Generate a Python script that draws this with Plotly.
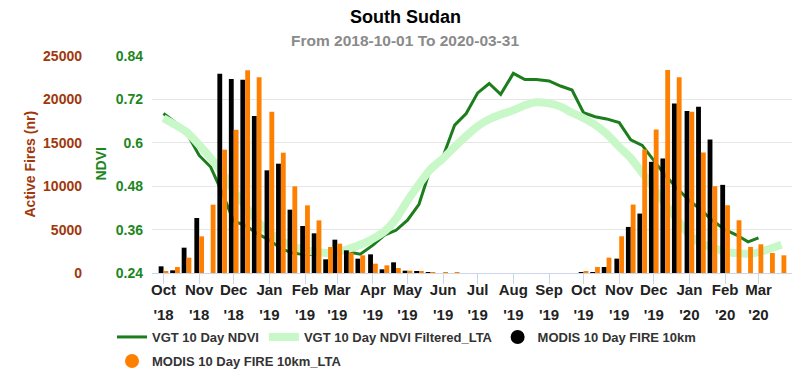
import plotly.graph_objects as go

# ---------------- data ----------------
months = ["2018-10", "2018-11", "2018-12", "2019-01", "2019-02", "2019-03",
          "2019-04", "2019-05", "2019-06", "2019-07", "2019-08", "2019-09",
          "2019-10", "2019-11", "2019-12", "2020-01", "2020-02", "2020-03"]
month_labels = ["Oct", "Nov", "Dec", "Jan", "Feb", "Mar", "Apr", "May", "Jun",
                "Jul", "Aug", "Sep", "Oct", "Nov", "Dec", "Jan", "Feb", "Mar"]
year_labels = ["'18", "'18", "'18", "'19", "'19", "'19", "'19", "'19", "'19",
               "'19", "'19", "'19", "'19", "'19", "'19", "'20", "'20", "'20"]
dekad_days = ["01", "11", "21"]
dekads = [f"{m}-{d}" for m in months for d in dekad_days]
month_ticks = [f"{m}-01" for m in months]

ndvi = [0.681, 0.657, 0.628, 0.565, 0.533, 0.462, 0.383, 0.372, 0.350, 0.331,
        0.308, 0.295, 0.291, 0.292, 0.294, 0.300, 0.298, 0.292, 0.317, 0.345,
        0.358, 0.386, 0.430, 0.529, 0.563, 0.649, 0.681, 0.738, 0.764, 0.734,
        0.792, 0.775, 0.775, 0.771, 0.757, 0.746, 0.683, 0.672, 0.666, 0.656,
        0.608, 0.593, 0.553, 0.510, 0.475, 0.440, 0.415, 0.385, 0.360, 0.345,
        0.326, 0.337, None, None]

ndvi_lta = [0.668, 0.650, 0.630, 0.594, 0.558, 0.517, 0.468, 0.425, 0.385, 0.352,
            0.330, 0.315, 0.303, 0.298, 0.295, 0.298, 0.307, 0.318, 0.335, 0.355,
            0.390, 0.440, 0.485, 0.527, 0.557, 0.589, 0.619, 0.646, 0.665, 0.678,
            0.690, 0.704, 0.712, 0.709, 0.700, 0.683, 0.668, 0.650, 0.625, 0.589,
            0.558, 0.517, 0.475, 0.430, 0.390, 0.345, 0.322, 0.310, 0.298, 0.295,
            0.293, 0.297, 0.307, 0.318]

fire = [768, 307, 2918, 6336, 0, 22963, 22349, 22272, 18086, 11827,
        12595, 7296, 5414, 4570, 1574, 3840, 2611, 1651, 2150, 422,
        1229, 269, 192, 115, 0, 0, 0, 0, 0, 0,
        0, 0, 0, 0, 0, 0, 77, 77, 692, 1654,
        5308, 6846, 12808, 13192, 19538, 18654, 19154, 15385, 10154, None,
        None, None, None, None]

fire_lta = [230, 691, 1766, 4224, 7872, 14208, 16512, 23347, 22540, 18586,
            13862, 9984, 7795, 6067, 2995, 3379, 2342, 2035, 1075, 883,
            576, 269, 230, 115, 40, 77, 0, 0, 0, 0,
            0, 0, 0, 0, 0, 0, 192, 692, 1769, 4231,
            7885, 14231, 16538, 23385, 22538, 18577, 13885, 10000, 7808, 6077,
            3000, 3308, 2308, 2038]

ndvi_ticks = [0.24, 0.36, 0.48, 0.6, 0.72, 0.84]
ndvi_tick_text = ["0.24", "0.36", "0.48", "0.6", "0.72", "0.84"]
fire_ticks = [0, 5000, 10000, 15000, 20000, 25000]
fire_tick_text = ["0", "5000", "10000", "15000", "20000", "25000"]

# ---------------- geometry (viewport pixels; page body has an 8px margin) ----------------
FONT = "Liberation Sans, Arial, sans-serif"
OFF = 8
W, H = 800, 383
V_LEFT, V_RIGHT, V_TOP, V_BOTTOM = 152, 793, 56, 273
ML = 0
MT = V_TOP - OFF
PW = (V_RIGHT - OFF) - ML
PH = V_BOTTOM - V_TOP
MR = W - ML - PW
MB = H - MT - PH


def px(vx):
    return (vx - OFF - ML) / PW


def py(vy):
    return (MT + PH - (vy - OFF)) / PH


DAY = 86400000
BW = 4.2 * DAY

C_DARK = "#1b7d1b"
C_LIGHT = "#c8f8c8"
C_FIRE = "#000000"
C_FIRE_LTA = "#ff8000"
C_BROWN = "#a0380c"
C_GREEN = "#1e861e"

fig = go.Figure()

fig.add_trace(go.Scatter(x=dekads, y=ndvi, name="VGT 10 Day NDVI", mode="lines",
                         line=dict(color=C_DARK, width=3), yaxis="y"))
fig.add_trace(go.Scatter(x=dekads, y=ndvi_lta, name="VGT 10 Day NDVI Filtered_LTA",
                         mode="lines", line=dict(color=C_LIGHT, width=8, shape="spline",
                                                 smoothing=0.5), yaxis="y"))
fig.add_trace(go.Bar(x=dekads, y=fire, name="MODIS 10 Day FIRE 10km", yaxis="y2",
                     marker=dict(color=C_FIRE, line=dict(width=0)), width=BW, offset=-BW,
                     showlegend=False))
fig.add_trace(go.Bar(x=dekads, y=fire_lta, name="MODIS 10 Day FIRE 10km_LTA", yaxis="y2",
                     marker=dict(color=C_FIRE_LTA, line=dict(width=0)), width=BW, offset=0,
                     showlegend=False))
# legend markers (circles) for the column series
fig.add_trace(go.Scatter(x=[None], y=[None], mode="markers", name="MODIS 10 Day FIRE 10km",
                         marker=dict(color=C_FIRE, size=14, symbol="circle"), yaxis="y2"))
fig.add_trace(go.Scatter(x=[None], y=[None], mode="markers", name="MODIS 10 Day FIRE 10km_LTA",
                         marker=dict(color=C_FIRE_LTA, size=14, symbol="circle"), yaxis="y2",
                         legend="legend2"))
# carrier for the year-label axis
fig.add_trace(go.Scatter(x=[month_ticks[0]], y=[None], xaxis="x2", yaxis="y",
                         showlegend=False, hoverinfo="skip"))

xrange = ["2018-09-21", "2020-03-31"]
legend_font = dict(family=FONT, size=13, color="#333333", weight="bold")

fig.update_layout(
    width=W, height=H,
    margin=dict(l=ML, r=MR, t=MT, b=MB),
    paper_bgcolor="white", plot_bgcolor="white",
    barmode="overlay",
    font=dict(family=FONT),
    showlegend=True,
    legend=dict(orientation="h", x=px(112), xanchor="left", y=py(322), yanchor="top",
                font=legend_font, itemsizing="trace", traceorder="normal",
                bgcolor="rgba(0,0,0,0)"),
    legend2=dict(orientation="h", x=px(112), xanchor="left", y=py(346), yanchor="top",
                 font=legend_font, itemsizing="trace", bgcolor="rgba(0,0,0,0)"),
    xaxis=dict(type="date", domain=[px(V_LEFT), 1], range=xrange,
               tickvals=month_ticks, ticktext=month_labels,
               tickfont=dict(family=FONT, size=15, color="#222222", weight="bold"),
               ticks="outside", ticklen=10, tickcolor="#ccd6eb", tickwidth=1,
               showline=True, linecolor="#ccd6eb", linewidth=1,
               showgrid=False, zeroline=False, anchor="y", ticklabelstandoff=-7),
    xaxis2=dict(type="date", overlaying="x", domain=[px(V_LEFT), 1],
                range=xrange, side="bottom", anchor="y",
                tickvals=month_ticks, ticktext=year_labels,
                tickfont=dict(family=FONT, size=15, color="#222222", weight="bold"),
                ticks="", showline=False, showgrid=False, zeroline=False,
                ticklabelstandoff=31),
    yaxis=dict(range=[0.24, 0.84], tickvals=ndvi_ticks, ticktext=ndvi_tick_text,
               tickfont=dict(family=FONT, size=14, color=C_GREEN, weight="bold"),
               showgrid=True, gridcolor="#e6e6e6", gridwidth=1, zeroline=False,
               showline=False, ticks="", ticklabelstandoff=8, anchor="x"),
    yaxis2=dict(range=[0, 25000], tickvals=fire_ticks, ticktext=fire_tick_text,
                overlaying="y", anchor="free", position=px(83), side="left",
                tickfont=dict(family=FONT, size=14, color=C_BROWN, weight="bold"),
                showgrid=False, zeroline=False, showline=False, ticks="",
                ticklabelstandoff=1),
    annotations=[
        dict(text="<b>South Sudan</b>", x=px(405), y=py(17),
             xref="paper", yref="paper", xanchor="center", yanchor="middle",
             showarrow=False, font=dict(family=FONT, size=18, color="#000000")),
        dict(text="<b>From 2018-10-01 To 2020-03-31</b>", x=px(405), y=py(40),
             xref="paper", yref="paper", xanchor="center", yanchor="middle",
             showarrow=False, font=dict(family=FONT, size=15.5, color="#8a8a8a")),
        dict(text="<b>Active Fires (nr)</b>", x=px(29), y=0.5, textangle=-90,
             xref="paper", yref="paper", xanchor="center", yanchor="middle",
             showarrow=False, font=dict(family=FONT, size=14, color=C_BROWN)),
        dict(text="<b>NDVI</b>", x=px(100), y=0.5, textangle=-90,
             xref="paper", yref="paper", xanchor="center", yanchor="middle",
             showarrow=False, font=dict(family=FONT, size=14, color=C_GREEN)),
    ],
)

fig.write_html("out.html")
